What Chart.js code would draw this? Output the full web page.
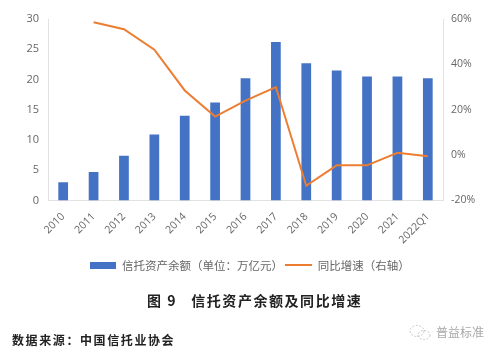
<!DOCTYPE html>
<html>
<head>
<meta charset="utf-8">
<script src="https://cdn.jsdelivr.net/npm/chart.js@4"></script>
<style>
body { margin: 0; background: #fff; }
#wrap { position: relative; width: 500px; height: 354px; overflow: hidden; }
.note { position: absolute; white-space: pre; font-family: "Noto Sans CJK SC", sans-serif; }
#caption { left: 147px; top: 290px; font-size: 14px; font-weight: 700; color: #222; letter-spacing: 1.55px; line-height: 20px; }
#source { left: 12px; top: 331px; font-size: 12px; font-weight: 700; color: #222; letter-spacing: 1.6px; line-height: 18px; }
#mark { left: 436px; top: 323px; font-size: 12px; color: #a8a8a8; line-height: 18px; }
#icon { position: absolute; left: 408px; top: 324px; }
</style>
</head>
<body>
<div id="wrap">
    <canvas id="trustChart" width="500" height="354"></canvas>
    <div class="note" id="caption">图 9   信托资产余额及同比增速</div>
    <div class="note" id="source">数据来源：中国信托业协会</div>
    <svg id="icon" width="24" height="18" fill="none" stroke="#c4c4c4" stroke-width="1" stroke-dasharray="2 1.5">
        <ellipse cx="9" cy="7" rx="7" ry="5.5"/>
        <ellipse cx="16" cy="11" rx="6" ry="4.5"/>
    </svg>
    <div class="note" id="mark">普益标准</div>
</div>
<script>
const years = ['2010', '2011', '2012', '2013', '2014', '2015', '2016', '2017', '2018', '2019', '2020', '2021', '2022Q1'];
const assets = [3.0, 4.7, 7.4, 10.9, 14.0, 16.2, 20.2, 26.2, 22.7, 21.5, 20.5, 20.5, 20.2];
const growth = [null, 58.6, 55.5, 46.5, 28.5, 17, 24, 30, -13.5, -4.5, -4.5, 1, -0.5];

const blue = '#4472c4';
const orange = '#ed7d31';
const tickColor = '#666666';
const axisColor = '#e2e2e2';

function legendMark(color, w, h) {
    const c = document.createElement('canvas');
    c.width = w;
    c.height = h;
    const g = c.getContext('2d');
    g.fillStyle = color;
    g.fillRect(0, 0, w, h);
    return c;
}

const ctx = document.getElementById('trustChart').getContext('2d');
new Chart(ctx, {
    data: {
        labels: years,
        datasets: [{
            type: 'line',
            label: '同比增速（右轴）',
            data: growth,
            yAxisID: 'y1',
            borderColor: orange,
            borderWidth: 2,
            pointRadius: 0,
            tension: 0,
            order: 0,
            pointStyle: legendMark(orange, 27, 2)
        }, {
            type: 'bar',
            label: '信托资产余额（单位：万亿元）',
            data: assets,
            yAxisID: 'y',
            backgroundColor: blue,
            barPercentage: 0.32,
            categoryPercentage: 1,
            order: 1,
            pointStyle: legendMark(blue, 26, 7)
        }]
    },
    options: {
        responsive: false,
        animation: false,
        layout: { padding: { top: 19, bottom: 73 } },
        scales: {
            x: {
                grid: { display: false },
                border: { color: axisColor },
                afterFit: function (axis) { axis.height = 56; },
                ticks: {
                    autoSkip: false,
                    minRotation: 45,
                    maxRotation: 45,
                    padding: 2,
                    color: tickColor,
                    font: { family: 'Open Sans', size: 10.5 }
                }
            },
            y: {
                position: 'left',
                min: 0,
                max: 30,
                grid: { display: false },
                border: { color: axisColor },
                afterFit: function (axis) { axis.width = 48; },
                ticks: {
                    stepSize: 5,
                    padding: 1,
                    color: tickColor,
                    font: { family: 'Open Sans', size: 11 }
                }
            },
            y1: {
                position: 'right',
                min: -20,
                max: 60,
                grid: { display: false },
                border: { color: axisColor },
                afterFit: function (axis) { axis.width = 57; },
                ticks: {
                    stepSize: 20,
                    padding: 0,
                    color: tickColor,
                    font: { family: 'Open Sans', size: 10.5 },
                    callback: function (v) { return v + '%'; }
                }
            }
        },
        plugins: {
            title: { display: false },
            tooltip: { enabled: false },
            legend: {
                position: 'bottom',
                reverse: true,
                labels: {
                    usePointStyle: true,
                    pointStyleWidth: 26,
                    boxHeight: 7,
                    padding: 3,
                    color: tickColor,
                    font: { family: 'Noto Sans CJK SC', size: 11.5 }
                }
            }
        }
    }
});
</script>
</body>
</html>
